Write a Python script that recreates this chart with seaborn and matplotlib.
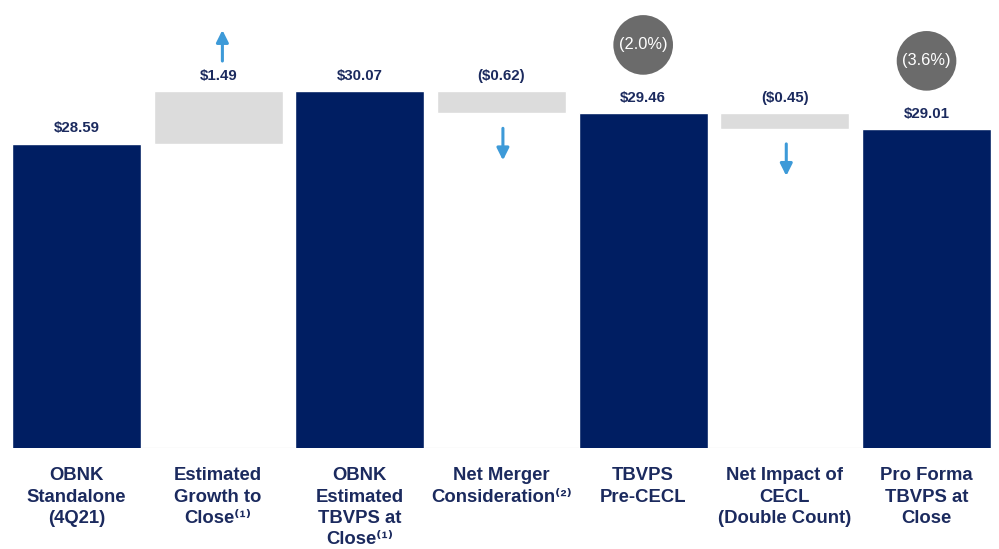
import matplotlib
matplotlib.use("Agg")
import matplotlib.pyplot as plt
import seaborn as sns
import pandas as pd

# categories and values (TBVPS bridge)
labels = [
    "OBNK\nStandalone\n(4Q21)",
    "Estimated\nGrowth to\nClose\u207d\u00b9\u207e",
    "OBNK\nEstimated\nTBVPS at\nClose\u207d\u00b9\u207e",
    "Net Merger\nConsideration\u207d\u00b2\u207e",
    "TBVPS\nPre-CECL",
    "Net Impact of\nCECL\n(Double Count)",
    "Pro Forma\nTBVPS at\nClose",
]
totals = {0: 28.59, 2: 30.07, 4: 29.46, 6: 29.01}
changes = {1: 1.49, 3: -0.62, 5: -0.45}
value_text = ["$28.59", "$1.49", "$30.07", "($0.62)", "$29.46", "($0.45)", "$29.01"]
pct_text = {4: "(2.0%)", 6: "(3.6%)"}

NAVY = "#001e62"
TEXT = "#1b2a5e"
GREY = "#dcdcdc"
ARROW = "#3d9ad8"
CIRCLE = "#6b6b6b"

sns.set_theme(style="white")
plt.rcParams["font.family"] = ["Liberation Sans", "DejaVu Sans"]

fig = plt.figure(figsize=(9.99, 5.49), dpi=100)
ax = fig.add_axes([12 / 999, 101 / 549, 979 / 999, 448 / 549])
ylo, yhi = 20, 32.65
px = (yhi - ylo) / 448  # data units per pixel

df = pd.DataFrame({"label": [labels[i] for i in totals], "value": list(totals.values())})
sns.barplot(data=df, x="label", y="value", order=labels, color=NAVY,
            saturation=1, width=0.91, ax=ax)

# floating change bars, each starts at the previous total
prev = {1: totals[0], 3: totals[2], 5: totals[4]}
for i, d in changes.items():
    lo = min(prev[i], prev[i] + d)
    ax.bar(i, abs(d), bottom=lo, width=0.91, color=GREY, zorder=2)

# value labels above each bar
for i in range(7):
    top = totals[i] if i in totals else max(prev[i], prev[i] + changes[i])
    ax.annotate(value_text[i], (i, top), xytext=(0, 6), textcoords="offset points",
                ha="center", va="bottom", fontsize=10.8, fontweight="bold", color=TEXT)

# percentage circles
for i, s in pct_text.items():
    ax.annotate(s, (i, totals[i]), xytext=(0, 49), textcoords="offset points",
                ha="center", va="center", fontsize=11.8, color="white",
                bbox=dict(boxstyle="circle,pad=0.34", fc=CIRCLE, ec="none"))

# direction arrows
arrow = dict(arrowstyle="-|>,head_width=0.3,head_length=0.6",
             color=ARROW, lw=2.2, shrinkA=0, shrinkB=0)
for i, d in changes.items():
    if d > 0:
        y0 = prev[i] + d
        ax.annotate("", xy=(i + 0.03, y0 + 61 * px), xytext=(i + 0.03, y0 + 30 * px),
                    arrowprops=arrow)
    else:
        y0 = prev[i] + d
        ax.annotate("", xy=(i + 0.01, y0 - 47 * px), xytext=(i + 0.01, y0 - 15 * px),
                    arrowprops=arrow)

ax.axhline(ylo, color="#eeeeee", lw=1, zorder=0)
ax.set_xlim(-0.455, 6.455)
ax.set_ylim(ylo, yhi)
ax.set_xlabel("")
ax.set_ylabel("")
ax.set_yticks([])
ax.tick_params(axis="x", length=0, pad=14)
ax.set_xticks(range(7))
ax.set_xticklabels(labels, fontsize=13.3, fontweight="bold", color=TEXT,
                   linespacing=1.32, va="top")
sns.despine(ax=ax, left=True, bottom=True)

fig.savefig("out.png", dpi=100)
